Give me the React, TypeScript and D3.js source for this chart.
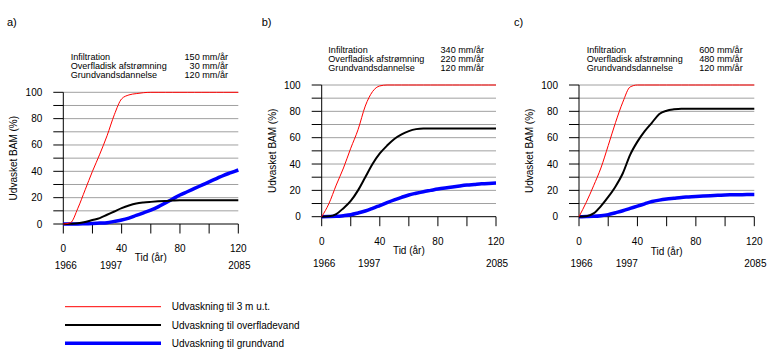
import React from 'react';
import * as d3 from 'd3';

const years = d3.range(0, 121, 5);

// panel a
const aRed = [0, 1, 12, 26, 40, 53, 67, 83, 95, 98, 99, 99.7, 100, 100, 100, 100, 100, 100, 100, 100, 100, 100, 100, 100, 100];
const aBlack = [0, 0.2, 0.5, 1.5, 3, 4.5, 7, 9.5, 12, 14, 15.5, 16.3, 16.8, 17.2, 17.5, 17.8, 18, 18, 18, 18, 18, 18, 18, 18, 18];
const aBlue = [0, 0, 0, 0.2, 0.4, 0.7, 1, 2, 3, 4.5, 6.5, 8.5, 10.5, 13, 16, 19, 22, 24.5, 27, 29.5, 32, 34.5, 37, 39, 41];

// panel b
const bRed = [0, 10, 24, 37, 52, 66, 84, 95, 99.3, 100, 100, 100, 100, 100, 100, 100, 100, 100, 100, 100, 100, 100, 100, 100, 100];
const bBlack = [0, 0.3, 2, 6.5, 12, 20, 30, 40, 48, 54, 59, 62.5, 65, 66.5, 67, 67, 67, 67, 67, 67, 67, 67, 67, 67, 67];
const bBlue = [0, 0.1, 0.3, 0.8, 1.5, 2.8, 4.3, 6.3, 8.5, 10.7, 12.8, 14.7, 16.5, 17.8, 19, 20, 21, 21.8, 22.5, 23.3, 24, 24.5, 25, 25.3, 25.5];

// panel c
const cRed = [0, 11, 23.5, 37, 54, 71.5, 87, 98.5, 100, 100, 100, 100, 100, 100, 100, 100, 100, 100, 100, 100, 100, 100, 100, 100, 100];
const cBlack = [0, 0.3, 2.5, 8, 15, 23, 33, 47, 57, 65, 71.5, 78, 80.5, 81.5, 82, 82, 82, 82, 82, 82, 82, 82, 82, 82, 82];
const cBlue = [0, 0.1, 0.3, 0.8, 1.6, 3, 4.5, 6.3, 8, 9.8, 11.5, 12.6, 13.4, 14, 14.6, 15, 15.4, 15.7, 16, 16.2, 16.5, 16.6, 16.7, 16.8, 16.8];

const headerLabels = ['Infiltration', 'Overfladisk afstrømning', 'Grundvandsdannelse'];
const aHeader = ['150 mm/år', '30 mm/år', '120 mm/år'];
const bHeader = ['340 mm/år', '220 mm/år', '120 mm/år'];
const cHeader = ['600 mm/år', '480 mm/år', '120 mm/år'];

const xLabelTicks = [0, 40, 80, 120];
const yLabelTicks = [0, 20, 40, 60, 80, 100];
const yearLabels = ['1966', '1997', '2085'];

const legendLabels = ['Udvaskning til 3 m u.t.', 'Udvaskning til overfladevand', 'Udvaskning til grundvand'];
const seriesColors = ['#ff0000', '#000000', '#0000ff'];
const seriesWidths = [1, 2, 3.5];

const font = 'Arial, "Liberation Sans", sans-serif';

const panels = [
  { tag: 'a)', tagX: 7, x0: 63.3, x1: 238.3, y0: 224, y1: 92.3, hx: 70.7, hr: 228, hy: 59.5, tickY: 252, tidY: 261, yearY: 269, series: [aRed, aBlack, aBlue], header: aHeader },
  { tag: 'b)', tagX: 261.7, x0: 321.7, x1: 496, y0: 216.7, y1: 85, hx: 328.3, hr: 484, hy: 53, tickY: 245, tidY: 254, yearY: 267.3, series: [bRed, bBlack, bBlue], header: bHeader },
  { tag: 'c)', tagX: 514, x0: 579, x1: 754.3, y0: 216.7, y1: 85, hx: 586.7, hr: 742.7, hy: 53, tickY: 245, tidY: 254.5, yearY: 267.3, series: [cRed, cBlack, cBlue], header: cHeader },
];

function Panel({ p }) {
  const x = d3.scaleLinear().domain([0, 120]).range([p.x0, p.x1]);
  const y = d3.scaleLinear().domain([0, 100]).range([p.y0, p.y1]);
  const line = d3
    .line<number>()
    .x((d, i) => x(years[i]))
    .y(d => y(d))
    .curve(d3.curveMonotoneX);

  return (
    <g fontFamily={font} fontSize={10} fill="#000">
      <text x={p.tagX} y={26} fontSize={11}>{p.tag}</text>

      {headerLabels.map((l, i) => (
        <g key={l} fontSize={9.1}>
          <text x={p.hx} y={p.hy + i * 9.2}>{l}</text>
          <text x={p.hr} y={p.hy + i * 9.2} textAnchor="end">{p.header[i]}</text>
        </g>
      ))}

      {d3.range(10, 101, 10).map(v => (
        <line key={v} x1={p.x0} x2={p.x1} y1={y(v)} y2={y(v)} stroke="#a0a0a0" strokeWidth={1} />
      ))}
      {d3.range(0, 101, 10).map(v => (
        <line key={v} x1={p.x0 - 10} x2={p.x0} y1={y(v)} y2={y(v)} stroke="#000" strokeWidth={1} />
      ))}
      {d3.range(0, 121, 20).map(v => (
        <line key={v} x1={x(v)} x2={x(v)} y1={p.y0} y2={p.y0 + 9.5} stroke="#000" strokeWidth={1} />
      ))}
      <line x1={p.x0} x2={p.x0} y1={p.y1} y2={p.y0} stroke="#000" strokeWidth={1} />
      <line x1={p.x0} x2={p.x1} y1={p.y0} y2={p.y0} stroke="#000" strokeWidth={1} />

      {yLabelTicks.map(v => (
        <text key={v} x={p.x0 - 21} y={y(v) + 3.5} textAnchor="end">{v}</text>
      ))}
      {xLabelTicks.map(v => (
        <text key={v} x={x(v)} y={p.tickY} textAnchor="middle">{v}</text>
      ))}
      <text x={(p.x0 + p.x1) / 2} y={p.tidY} textAnchor="middle">Tid (år)</text>
      {yearLabels.map(yr => (
        <text key={yr} x={x(Math.min(+yr - 1966, 120)) + 2.5} y={p.yearY} textAnchor="middle">{yr}</text>
      ))}
      <text
        transform={`translate(${p.x0 - 46},${(p.y0 + p.y1) / 2}) rotate(-90)`}
        textAnchor="middle"
      >Udvasket BAM (%)</text>

      {[2, 1, 0].map(k => (
        <path key={k} d={line(p.series[k])} fill="none" stroke={seriesColors[k]} strokeWidth={seriesWidths[k]} />
      ))}
    </g>
  );
}

export default function App() {
  return (
    <svg width={769} height={363} style={{ position: 'absolute', left: 0, top: 0, background: '#fff' }}>
      {panels.map(p => <Panel key={p.tag} p={p} />)}
      {legendLabels.map((l, i) => (
        <g key={l}>
          <line x1={65} x2={161} y1={306.7 + i * 18.3} y2={306.7 + i * 18.3} stroke={seriesColors[i]} strokeWidth={seriesWidths[i]} />
          <text x={171.7} y={310.3 + i * 18.3} fontFamily={font} fontSize={10}>{l}</text>
        </g>
      ))}
    </svg>
  );
}
